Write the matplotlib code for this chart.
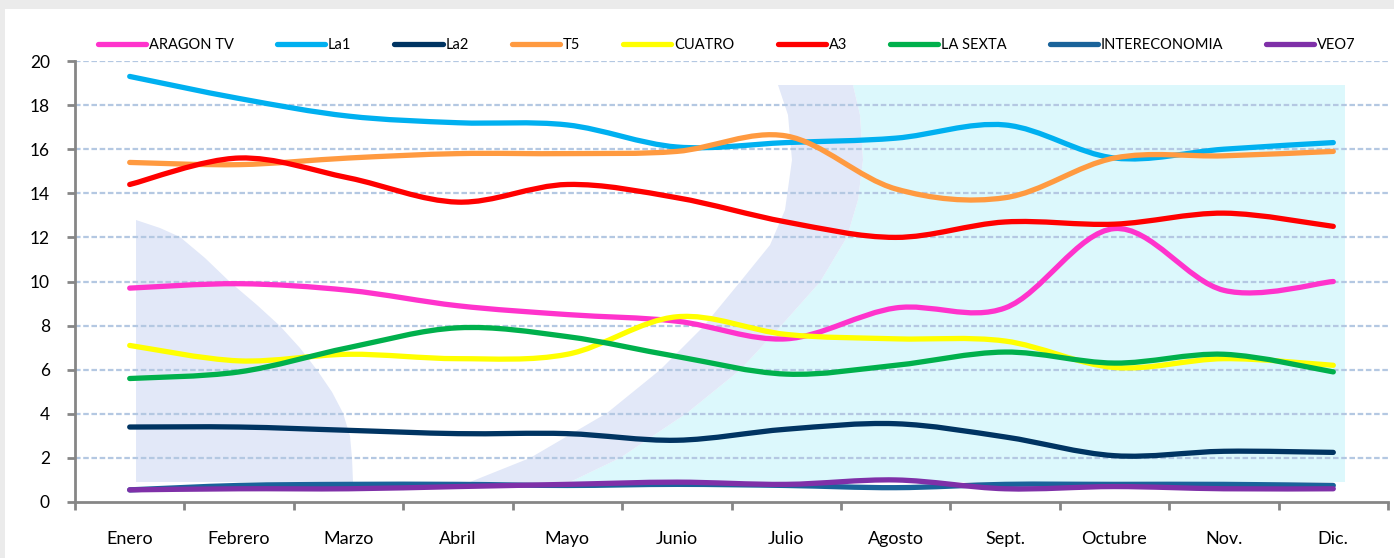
import matplotlib
matplotlib.use("Agg")
import matplotlib.pyplot as plt
from matplotlib.path import Path
from matplotlib.patches import PathPatch, Polygon, Rectangle
from matplotlib.lines import Line2D

plt.rcParams['font.family'] = ['Lato', 'DejaVu Sans']

months = ["Enero", "Febrero", "Marzo", "Abril", "Mayo", "Junio", "Julio",
          "Agosto", "Sept.", "Octubre", "Nov.", "Dic."]
aragon_tv = [9.7, 9.9, 9.6, 8.9, 8.5, 8.2, 7.4, 8.8, 8.8, 12.4, 9.6, 10.0]
la1 = [19.3, 18.3, 17.5, 17.2, 17.1, 16.1, 16.3, 16.5, 17.1, 15.6, 16.0, 16.3]
la2 = [3.4, 3.4, 3.25, 3.1, 3.1, 2.8, 3.3, 3.55, 2.95, 2.1, 2.3, 2.25]
t5 = [15.4, 15.3, 15.6, 15.8, 15.8, 15.9, 16.6, 14.2, 13.8, 15.6, 15.7, 15.9]
cuatro = [7.1, 6.4, 6.7, 6.5, 6.7, 8.4, 7.6, 7.4, 7.3, 6.1, 6.5, 6.2]
a3 = [14.4, 15.6, 14.7, 13.6, 14.4, 13.8, 12.7, 12.0, 12.7, 12.6, 13.1, 12.5]
la_sexta = [5.6, 5.9, 7.0, 7.9, 7.5, 6.6, 5.8, 6.2, 6.8, 6.3, 6.7, 5.9]
intereconomia = [0.55, 0.75, 0.8, 0.8, 0.75, 0.8, 0.75, 0.65, 0.8, 0.8, 0.8, 0.75]
veo7 = [0.55, 0.6, 0.6, 0.7, 0.8, 0.9, 0.8, 1.0, 0.6, 0.7, 0.6, 0.6]

series_names = ["ARAGON TV", "La1", "La2", "T5", "CUATRO", "A3", "LA SEXTA",
                "INTERECONOMIA", "VEO7"]
series_values = [aragon_tv, la1, la2, t5, cuatro, a3, la_sexta, intereconomia, veo7]
series_colors = ["#FF33CC", "#00B0F0", "#003462", "#FF9A40", "#FFFF00",
                 "#FF0000", "#00B04C", "#1A639A", "#7F30A8"]
y_ticks = [0, 2, 4, 6, 8, 10, 12, 14, 16, 18, 20]

W, H = 1394, 558
fig = plt.figure(figsize=(W / 100, H / 100), dpi=100, facecolor="white")


def fp(x, y):
    return (x / W, 1 - y / H)


# background decorations (figure coordinates)
fig.add_artist(Rectangle(fp(0, 9), 1, 9 / H, transform=fig.transFigure,
                         facecolor="#ebebeb", edgecolor="none", zorder=0))
fig.add_artist(Rectangle((0, 0), 5 / W, 1, transform=fig.transFigure,
                         facecolor="#ebebeb", edgecolor="none", zorder=0))

outer = [(470, 482), (530, 458), (607, 413), (660, 370), (703, 327), (740, 282),
         (770, 245), (785, 210), (792, 160), (788, 115), (778, 85)]
inner = [(570, 482), (620, 458), (687, 413), (740, 370), (780, 327), (820, 282),
         (847, 237), (858, 200), (863, 160), (860, 115), (853, 85)]
cyan_pts = inner + [(1345, 85), (1345, 482)]
fig.add_artist(Polygon([fp(*p) for p in cyan_pts], closed=True,
                       transform=fig.transFigure, facecolor="#dcf8fc",
                       edgecolor="none", zorder=0))
cres = outer + inner[::-1]
fig.add_artist(Polygon([fp(*p) for p in cres], closed=True,
                       transform=fig.transFigure, facecolor="#e2e8f8",
                       edgecolor="none", zorder=0))
left_shape = [(136, 482), (136, 220), (160, 228), (180, 237), (205, 258),
              (230, 282), (257, 305), (280, 326), (300, 348), (317, 370),
              (332, 392), (343, 413), (350, 436), (352, 458), (353, 482)]
fig.add_artist(Polygon([fp(*p) for p in left_shape], closed=True,
                       transform=fig.transFigure, facecolor="#e2e8f8",
                       edgecolor="none", zorder=0))

ax = fig.add_axes([75 / W, 56 / H, 1313 / W, 441 / H])
ax.set_facecolor("none")
ax.set_zorder(1)

x = list(range(len(months)))


def smooth_path(xs, ys):
    n = len(xs)
    verts = [(xs[0], ys[0])]
    codes = [Path.MOVETO]
    for i in range(n - 1):
        x0, y0 = xs[max(i - 1, 0)], ys[max(i - 1, 0)]
        x1, y1 = xs[i], ys[i]
        x2, y2 = xs[i + 1], ys[i + 1]
        x3, y3 = xs[min(i + 2, n - 1)], ys[min(i + 2, n - 1)]
        c1 = (x1 + (x2 - x0) / 6, y1 + (y2 - y0) / 6)
        c2 = (x2 - (x3 - x1) / 6, y2 - (y3 - y1) / 6)
        verts += [c1, c2, (x2, y2)]
        codes += [Path.CURVE4] * 3
    return Path(verts, codes)


handles = []
for k, (name, vals, col) in enumerate(zip(series_names, series_values, series_colors)):
    patch = PathPatch(smooth_path(x, vals), facecolor="none", edgecolor=col,
                      lw=3.8, capstyle="round", joinstyle="round", zorder=3 + k * 0.01)
    ax.add_patch(patch)
    handles.append(Line2D([], [], color=col, lw=3.8, solid_capstyle="round", label=name))

ax.set_xlim(-0.5, len(months) - 0.5)
ax.set_ylim(0, 20)
ax.set_yticks(y_ticks)
ax.set_xticks(x)
ax.set_xticklabels(months)
ax.set_xticks([i - 0.5 for i in range(len(months) + 1)], minor=True)
ax.tick_params(axis="x", which="major", length=0, pad=21, labelsize=13, colors="black")
ax.tick_params(axis="x", which="minor", length=6, width=2, color="#868686", direction="out")
ax.tick_params(axis="y", length=6, width=2, color="#868686", pad=12, labelsize=12.5)

for yv in y_ticks[1:]:
    ax.axhline(yv, color="#b4c8e2", lw=1.6, ls=(0, (2.5, 1.2)), zorder=1)

for s in ["top", "right"]:
    ax.spines[s].set_visible(False)
for s in ["left", "bottom"]:
    ax.spines[s].set_color("#868686")
    ax.spines[s].set_linewidth(2)

fig.legend(handles=handles, loc="center", bbox_to_anchor=(727 / W, 1 - 45 / H),
           ncol=9, frameon=False, fontsize=10.5, handlelength=3.3,
           handletextpad=0.2, columnspacing=2.95)

fig.savefig("out.png", dpi=100, facecolor="white")
